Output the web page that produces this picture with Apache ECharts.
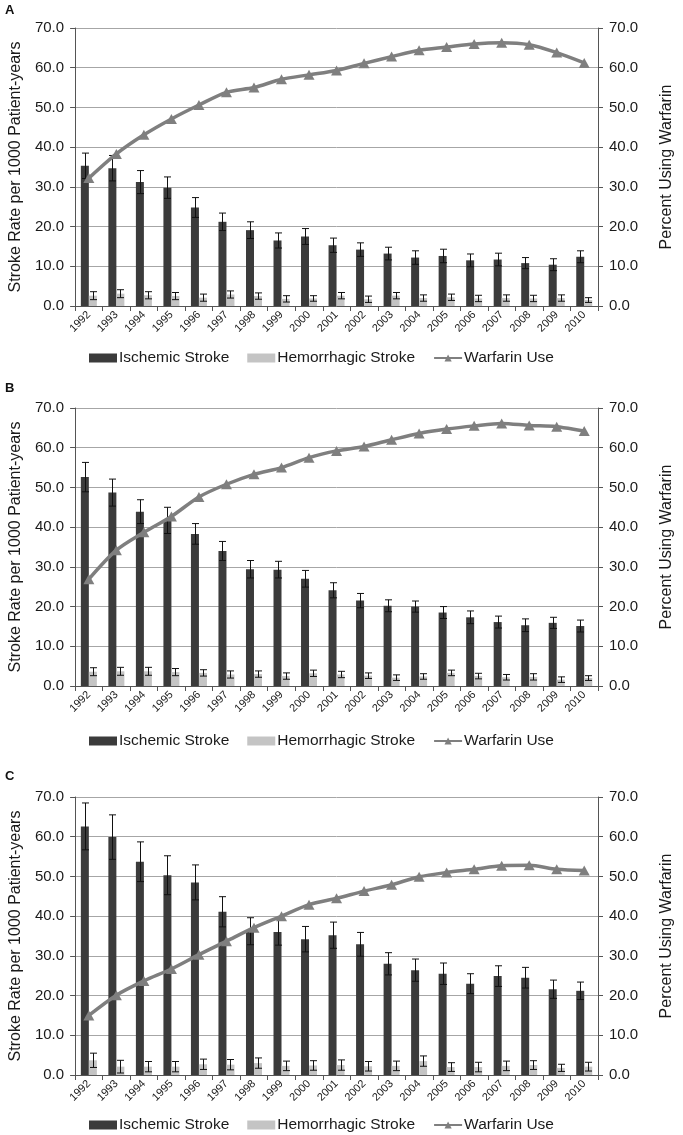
<!DOCTYPE html>
<html>
<head>
<meta charset="utf-8">
<script src="https://cdn.jsdelivr.net/npm/echarts@6/dist/echarts.min.js"></script>
<style>
html,body{margin:0;padding:0;background:#fff;}
#chart{width:683px;height:1135px;}
</style>
</head>
<body>
<div id="chart"></div>
<script>
const years = ['1992','1993','1994','1995','1996','1997','1998','1999','2000','2001','2002','2003','2004','2005','2006','2007','2008','2009','2010'];
const yTicks = [0,10,20,30,40,50,60,70];

// Panel A
const ischA   = [35.3,34.7,31.2,29.8,24.8,21.2,19.1,16.5,17.5,15.3,14.2,13.2,12.2,12.6,11.5,11.7,10.8,10.4,12.4];
const ischAHi = [38.5,37.9,34.1,32.5,27.3,23.4,21.2,18.4,19.5,17.1,15.9,14.8,13.9,14.3,13.1,13.3,12.2,11.9,13.9];
const hemA    = [2.6,3.1,2.7,2.5,2.1,2.9,2.5,1.8,1.9,2.6,1.7,2.6,2.0,2.2,1.9,2.0,1.9,2.0,1.5];
const hemAHi  = [3.6,4.1,3.6,3.4,3.0,3.8,3.3,2.6,2.6,3.4,2.5,3.4,2.8,3.0,2.7,2.8,2.7,2.8,2.1];
const warA    = [32.2,38.3,43.1,47.1,50.6,53.8,55.0,57.1,58.2,59.3,61.1,62.8,64.4,65.2,66.0,66.3,65.8,63.8,61.2];

// Panel B
const ischB   = [52.6,48.7,43.9,41.7,38.3,34.0,29.4,29.3,27.0,24.1,21.5,20.2,20.0,18.5,17.3,16.1,15.3,15.9,15.1];
const ischBHi = [56.3,52.1,46.9,45.0,40.9,36.4,31.6,31.4,29.1,26.0,23.3,21.7,21.4,20.0,18.9,17.6,16.9,17.3,16.6];
const hemB    = [3.6,3.7,3.7,3.5,3.3,2.9,3.0,2.5,3.2,2.9,2.6,2.1,2.4,3.3,2.5,2.2,2.3,1.6,2.0];
const hemBHi  = [4.6,4.7,4.7,4.4,4.1,3.8,3.8,3.3,4.0,3.7,3.3,2.8,3.1,4.0,3.2,2.9,3.1,2.3,2.6];
const warB    = [26.9,34.2,38.7,42.7,47.6,50.8,53.3,55.0,57.5,59.2,60.3,62.0,63.6,64.7,65.5,66.1,65.6,65.3,64.2];

// Panel C
const ischC   = [62.6,59.9,53.7,50.3,48.5,41.1,36.2,36.0,34.2,35.2,32.9,28.0,26.4,25.5,23.0,24.9,24.5,21.6,21.2];
const ischCHi = [68.5,65.5,58.7,55.2,52.9,44.9,39.6,39.3,37.4,38.5,35.9,30.8,29.2,28.2,25.5,27.5,27.1,23.9,23.4];
const hemC    = [3.7,2.1,2.1,2.1,2.7,2.6,3.0,2.3,2.4,2.5,2.2,2.3,3.5,2.0,2.0,2.3,2.5,1.8,2.1];
const hemCHi  = [5.5,3.7,3.4,3.4,4.0,3.9,4.3,3.5,3.6,3.8,3.4,3.5,4.8,3.1,3.2,3.5,3.6,2.7,3.2];
const warC    = [15.0,20.1,23.7,26.7,30.3,33.7,37.1,40.0,42.9,44.5,46.3,47.9,49.9,51.0,51.8,52.7,52.8,51.8,51.5];

const panelLabels = ['A','B','C'];
const panels = [
  {isch: ischA, ischHi: ischAHi, hem: hemA, hemHi: hemAHi, war: warA},
  {isch: ischB, ischHi: ischBHi, hem: hemB, hemHi: hemBHi, war: warB},
  {isch: ischC, ischHi: ischCHi, hem: hemC, hemHi: hemCHi, war: warC}
];

// layout
const gridTops = [28, 408, 797];
const gridH = 278;
const legendTops = [345, 728, 1112];
const labelTops = [-1, 377, 765];

const FONT = '"Liberation Sans", Arial, sans-serif';
const TXT = '#1a1a1a';
const DARK = '#3b3b3b';
const LIGHT = '#c4c4c4';
const LINEC = '#7f7f7f';
const BAR_W = 8;

function errSeries(pi, vals, his, offset) {
  return {
    type: 'custom',
    xAxisIndex: pi,
    yAxisIndex: pi * 2,
    silent: true,
    z: 10,
    data: years.map((y, i) => [i, 2 * vals[i] - his[i], his[i]]),
    encode: {x: 0, y: [1, 2]},
    renderItem: function (params, api) {
      const i = api.value(0);
      const pHi = api.coord([i, api.value(2)]);
      const pLo = api.coord([i, api.value(1)]);
      const x = Math.round(pHi[0] + offset) + 0.5;
      const cw = 3.5;
      const st = {stroke: '#111', lineWidth: 1};
      return {
        type: 'group',
        children: [
          {type: 'line', shape: {x1: x, y1: pHi[1], x2: x, y2: pLo[1]}, style: st},
          {type: 'line', shape: {x1: x - cw, y1: pHi[1], x2: x + cw, y2: pHi[1]}, style: st},
          {type: 'line', shape: {x1: x - cw, y1: pLo[1], x2: x + cw, y2: pLo[1]}, style: st}
        ]
      };
    }
  };
}

const grid = [], xAxis = [], yAxis = [], series = [], legend = [], title = [];
panels.forEach((p, pi) => {
  grid.push({left: 67, right: 75, top: gridTops[pi], height: gridH});
  title.push({text: panelLabels[pi], left: 0, top: labelTops[pi],
    textStyle: {fontFamily: FONT, fontSize: 13, fontWeight: 'bold', color: '#111'}});
  xAxis.push({
    type: 'category', gridIndex: pi, data: years, boundaryGap: true,
    axisLine: {show: true, lineStyle: {color: '#555', width: 1}},
    axisTick: {show: true, length: 5, lineStyle: {color: '#555'}},
    axisLabel: {rotate: 45, fontSize: 11, color: TXT, fontFamily: FONT, margin: 7, interval: 0}
  });
  yAxis.push({
    type: 'value', gridIndex: pi, min: 0, max: 70, interval: 10,
    name: 'Stroke Rate per 1000 Patient-years', nameLocation: 'middle', nameGap: 51,
    nameTextStyle: {fontSize: 16, color: TXT, fontFamily: FONT},
    axisLine: {show: true, lineStyle: {color: '#555', width: 1}},
    axisTick: {show: true, length: 5, lineStyle: {color: '#555'}},
    axisLabel: {formatter: v => v.toFixed(1), fontSize: 15, color: TXT, fontFamily: FONT, margin: 11},
    splitLine: {show: true, lineStyle: {color: '#a6a6a6', width: 1}}
  });
  yAxis.push({
    type: 'value', gridIndex: pi, min: 0, max: 70, interval: 10, position: 'right',
    name: 'Percent Using Warfarin', nameLocation: 'middle', nameGap: 61,
    nameTextStyle: {fontSize: 16, color: TXT, fontFamily: FONT},
    axisLine: {show: true, lineStyle: {color: '#555', width: 1}},
    axisTick: {show: true, length: 5, lineStyle: {color: '#555'}},
    axisLabel: {formatter: v => v.toFixed(1), fontSize: 15, color: TXT, fontFamily: FONT, margin: 11},
    splitLine: {show: false}
  });
  series.push({
    name: 'Ischemic Stroke', type: 'bar', xAxisIndex: pi, yAxisIndex: pi * 2,
    data: p.isch, barWidth: BAR_W, barGap: '0%', itemStyle: {color: DARK}
  });
  series.push({
    name: 'Hemorrhagic Stroke', type: 'bar', xAxisIndex: pi, yAxisIndex: pi * 2,
    data: p.hem, barWidth: BAR_W, barGap: '0%', itemStyle: {color: LIGHT}
  });
  series.push(errSeries(pi, p.isch, p.ischHi, -BAR_W / 2));
  series.push(errSeries(pi, p.hem, p.hemHi, BAR_W / 2));
  series.push({
    name: 'Warfarin Use', type: 'line', xAxisIndex: pi, yAxisIndex: pi * 2 + 1,
    data: p.war, smooth: 0.3, symbol: 'triangle', symbolSize: [11, 10],
    lineStyle: {color: LINEC, width: 3.5}, itemStyle: {color: LINEC}, z: 20
  });
  legend.push({
    top: legendTops[pi], left: 84, itemWidth: 28, itemHeight: 9, itemGap: 18,
    textStyle: {fontSize: 15.5, color: TXT, fontFamily: FONT, padding: [0, 0, 0, -3]},
    data: [
      {name: 'Ischemic Stroke', icon: 'rect'},
      {name: 'Hemorrhagic Stroke', icon: 'rect'},
      {name: 'Warfarin Use'}
    ],
    selectedMode: false
  });
});

const chart = echarts.init(document.getElementById('chart'), null, {renderer: 'canvas'});
chart.setOption({
  animation: false,
  backgroundColor: '#fff',
  title, grid, xAxis, yAxis, series, legend
});
</script>
</body>
</html>
